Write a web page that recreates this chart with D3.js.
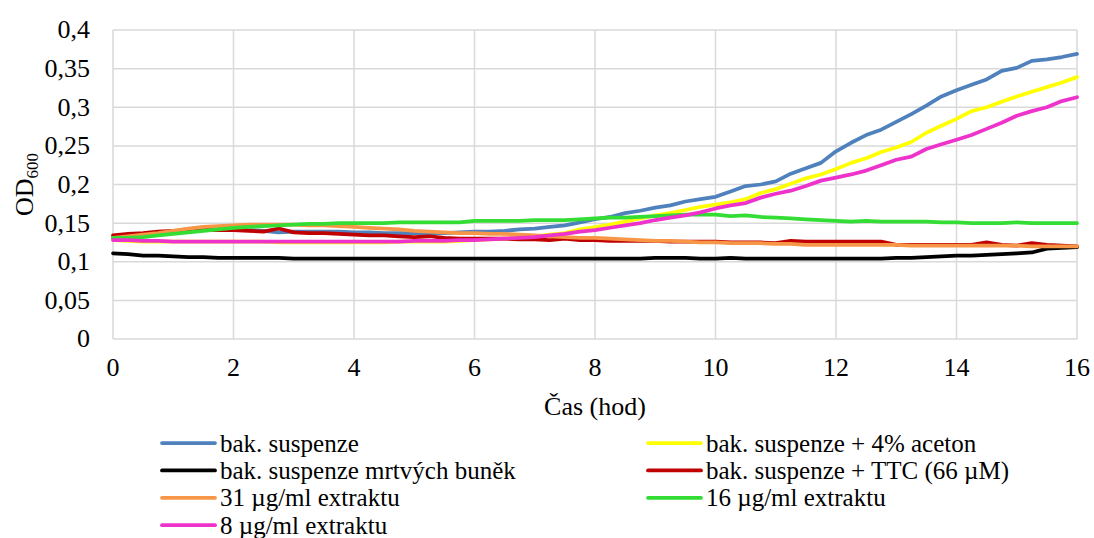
<html>
<head>
  <meta charset="UTF-8">
</head>
<body style="margin:0">
  <svg width="1094" height="538"></svg>
  <script src="https://d3js.org/d3.v7.min.js"></script>
  <script>
// time points every 15 min, 0..16 h
const hours = d3.range(0, 16.001, 0.25);

const bakSuspenze = [
  0.130, 0.131, 0.134, 0.137, 0.139, 0.140, 0.141, 0.142, 0.142, 0.141, 0.140, 0.138, 0.139,
  0.139, 0.139, 0.139, 0.138, 0.138, 0.137, 0.137, 0.137, 0.137, 0.137, 0.138, 0.139,
  0.139, 0.140, 0.142, 0.143, 0.145, 0.147, 0.151, 0.155, 0.158, 0.163, 0.166, 0.170,
  0.173, 0.178, 0.181, 0.184, 0.191, 0.198, 0.200, 0.204, 0.214, 0.221, 0.228, 0.243,
  0.254, 0.264, 0.271, 0.281, 0.291, 0.302, 0.314, 0.322, 0.329, 0.336, 0.347, 0.351,
  0.360, 0.362, 0.365, 0.369
];
const aceton = [
  0.128, 0.127, 0.126, 0.126, 0.126, 0.126, 0.126, 0.126, 0.126, 0.126, 0.126, 0.125, 0.125,
  0.125, 0.125, 0.125, 0.125, 0.125, 0.125, 0.126, 0.126, 0.126, 0.126, 0.127, 0.128,
  0.129, 0.130, 0.131, 0.133, 0.135, 0.137, 0.142, 0.145, 0.148, 0.152, 0.156, 0.160,
  0.163, 0.167, 0.171, 0.174, 0.177, 0.181, 0.189, 0.194, 0.201, 0.208, 0.213, 0.220,
  0.228, 0.234, 0.242, 0.248, 0.255, 0.267, 0.276, 0.285, 0.295, 0.300, 0.307, 0.314,
  0.320, 0.326, 0.332, 0.339
];
const mrtveBunky = [
  0.111, 0.110, 0.108, 0.108, 0.107, 0.106, 0.106, 0.105, 0.105, 0.105, 0.105, 0.105, 0.104,
  0.104, 0.104, 0.104, 0.104, 0.104, 0.104, 0.104, 0.104, 0.104, 0.104, 0.104, 0.104,
  0.104, 0.104, 0.104, 0.104, 0.104, 0.104, 0.104, 0.104, 0.104, 0.104, 0.104, 0.105,
  0.105, 0.105, 0.104, 0.104, 0.105, 0.104, 0.104, 0.104, 0.104, 0.104, 0.104, 0.104,
  0.104, 0.104, 0.104, 0.105, 0.105, 0.106, 0.107, 0.108, 0.108, 0.109, 0.110, 0.111,
  0.112, 0.117, 0.118, 0.119
];
const ttc = [
  0.134, 0.136, 0.137, 0.139, 0.140, 0.141, 0.141, 0.141, 0.141, 0.140, 0.139, 0.143, 0.138,
  0.137, 0.137, 0.136, 0.135, 0.134, 0.134, 0.133, 0.132, 0.133, 0.131, 0.130, 0.130,
  0.130, 0.130, 0.129, 0.129, 0.128, 0.130, 0.128, 0.128, 0.127, 0.127, 0.127, 0.127,
  0.126, 0.126, 0.126, 0.126, 0.125, 0.125, 0.125, 0.124, 0.127, 0.126, 0.126, 0.126,
  0.126, 0.126, 0.126, 0.122, 0.122, 0.122, 0.122, 0.122, 0.122, 0.125, 0.122, 0.121,
  0.124, 0.122, 0.121, 0.120
];
const extrakt31 = [
  0.131, 0.133, 0.135, 0.137, 0.140, 0.143, 0.145, 0.146, 0.147, 0.148, 0.148, 0.148, 0.148,
  0.147, 0.147, 0.146, 0.145, 0.144, 0.143, 0.142, 0.140, 0.139, 0.138, 0.137, 0.137,
  0.136, 0.136, 0.135, 0.134, 0.133, 0.132, 0.131, 0.131, 0.130, 0.129, 0.128, 0.127,
  0.127, 0.126, 0.125, 0.125, 0.124, 0.124, 0.124, 0.123, 0.123, 0.122, 0.122, 0.122,
  0.122, 0.122, 0.122, 0.122, 0.121, 0.121, 0.121, 0.121, 0.121, 0.121, 0.121, 0.121,
  0.120, 0.120, 0.120, 0.120
];
const extrakt16 = [
  0.131, 0.131, 0.132, 0.134, 0.136, 0.138, 0.140, 0.142, 0.144, 0.145, 0.146, 0.147, 0.148,
  0.149, 0.149, 0.150, 0.150, 0.150, 0.150, 0.151, 0.151, 0.151, 0.151, 0.151, 0.153,
  0.153, 0.153, 0.153, 0.154, 0.154, 0.154, 0.155, 0.156, 0.157, 0.157, 0.158, 0.159,
  0.160, 0.161, 0.161, 0.161, 0.159, 0.160, 0.158, 0.157, 0.156, 0.155, 0.154, 0.153,
  0.152, 0.153, 0.152, 0.152, 0.152, 0.152, 0.151, 0.151, 0.150, 0.150, 0.150, 0.151,
  0.150, 0.150, 0.150, 0.150
];
const extrakt8 = [
  0.128, 0.128, 0.127, 0.127, 0.126, 0.126, 0.126, 0.126, 0.126, 0.126, 0.126, 0.126, 0.126,
  0.126, 0.126, 0.126, 0.126, 0.126, 0.126, 0.126, 0.127, 0.127, 0.127, 0.128, 0.128,
  0.129, 0.130, 0.131, 0.132, 0.134, 0.136, 0.139, 0.141, 0.144, 0.147, 0.150, 0.154,
  0.157, 0.160, 0.164, 0.169, 0.173, 0.176, 0.183, 0.188, 0.192, 0.198, 0.205, 0.209,
  0.213, 0.218, 0.225, 0.232, 0.236, 0.246, 0.252, 0.258, 0.264, 0.272, 0.280, 0.289,
  0.295, 0.300, 0.308, 0.313
];

const seriesNames = [
  "bak. suspenze", "bak. suspenze + 4% aceton", "bak. suspenze mrtvých buněk",
  "bak. suspenze + TTC (66 µM)", "31 µg/ml extraktu", "16 µg/ml extraktu", "8 µg/ml extraktu"
];
const seriesValues = [bakSuspenze, aceton, mrtveBunky, ttc, extrakt31, extrakt16, extrakt8];
const seriesColors = ["#4f81bd", "#ffff00", "#000000", "#c00000", "#f79646", "#33dd33", "#ee33cc"];

const xTicks = [0, 2, 4, 6, 8, 10, 12, 14, 16];
const yTicks = [0, 0.05, 0.1, 0.15, 0.2, 0.25, 0.3, 0.35, 0.4];

const FONT = "Liberation Serif";
const plot = { left: 113, right: 1077, top: 30, bottom: 339 };

const svg = d3.select("svg");

const x = d3.scaleLinear().domain([0, 16]).range([plot.left, plot.right]);
const y = d3.scaleLinear().domain([0, 0.4]).range([plot.bottom, plot.top]);

// gridlines
svg.append("g")
  .selectAll("line")
  .data(yTicks)
  .join("line")
  .attr("x1", plot.left).attr("x2", plot.right)
  .attr("y1", d => y(d)).attr("y2", d => y(d))
  .attr("stroke", "#d9d9d9").attr("stroke-width", 1.5);

svg.append("g")
  .selectAll("line")
  .data(xTicks)
  .join("line")
  .attr("x1", d => x(d)).attr("x2", d => x(d))
  .attr("y1", plot.top).attr("y2", plot.bottom)
  .attr("stroke", "#d9d9d9").attr("stroke-width", 1.5);

// tick labels, drawn from the scales
const fmt = d => String(+d.toFixed(2)).replace(".", ",");

svg.append("g")
  .selectAll("text")
  .data(yTicks)
  .join("text")
  .attr("transform", d => `translate(${plot.left - 23},${y(d) + 8.5}) rotate(0.01)`)
  .attr("text-anchor", "end")
  .attr("font-family", FONT).attr("font-size", 26)
  .text(fmt);

svg.append("g")
  .selectAll("text")
  .data(xTicks)
  .join("text")
  .attr("transform", d => `translate(${x(d)},${plot.bottom + 37}) rotate(0.01)`)
  .attr("text-anchor", "middle")
  .attr("font-family", FONT).attr("font-size", 26)
  .text(d => d);

// axis titles
svg.append("text")
  .attr("transform", `translate(${(plot.left + plot.right) / 2},415) rotate(0.01)`)
  .attr("text-anchor", "middle")
  .attr("font-family", FONT).attr("font-size", 26)
  .text("Čas (hod)");

const yTitle = svg.append("text")
  .attr("transform", `translate(33,${(plot.top + plot.bottom) / 2}) rotate(-90)`)
  .attr("text-anchor", "middle")
  .attr("font-family", FONT).attr("font-size", 26);
yTitle.append("tspan").text("OD");
yTitle.append("tspan").attr("dy", 5).attr("font-size", 17).text("600");

// lines
const line = d3.line()
  .x((d, i) => x(hours[i]))
  .y(d => y(d));

svg.append("g")
  .selectAll("path")
  .data(seriesValues)
  .join("path")
  .attr("d", line)
  .attr("fill", "none")
  .attr("stroke", (d, i) => seriesColors[i])
  .attr("stroke-width", 3.75)
  .attr("stroke-linejoin", "round")
  .attr("stroke-linecap", "round");

// legend
const item = svg.append("g")
  .selectAll("g")
  .data(seriesNames)
  .join("g")
  .attr("transform", (d, i) => `translate(${i % 2 === 0 ? 162 : 648},${443 + Math.floor(i / 2) * 27.4})`);

item.append("line")
  .attr("x1", 0).attr("x2", 53)
  .attr("stroke", (d, i) => seriesColors[i])
  .attr("stroke-width", 3.75)
  .attr("stroke-linecap", "round");

item.append("text")
  .attr("transform", "translate(58,8.5) rotate(0.01)")
  .attr("font-family", FONT).attr("font-size", 25)
  .text(d => d);
  </script>
</body>
</html>
